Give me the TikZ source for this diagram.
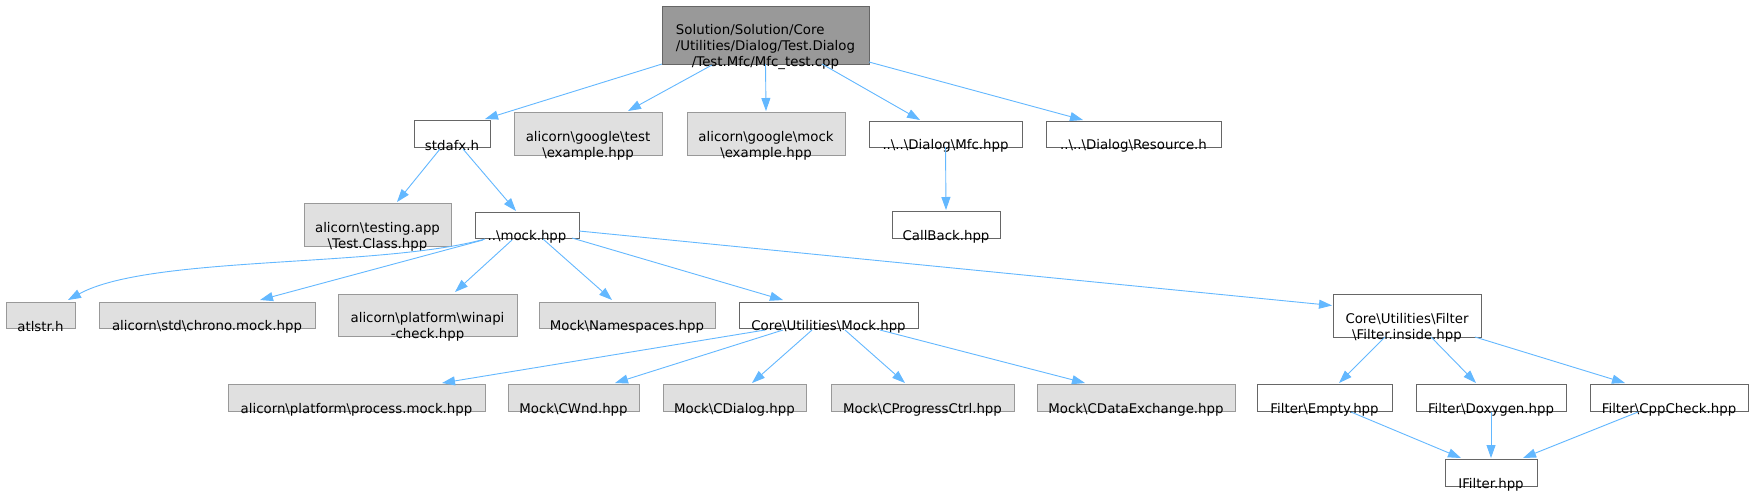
\documentclass[tikz,border=0pt]{standalone}
\usepackage{fontspec}
\setmainfont{DejaVu Sans}
\usetikzlibrary{arrows.meta}
\definecolor{edgec}{HTML}{63B8FF}
\definecolor{cdark}{HTML}{666666}
\definecolor{cmid}{HTML}{999999}
\definecolor{clight}{HTML}{E0E0E0}
\newcommand\bsl{\textbackslash}
\newcommand\filenode[7]{%
  \node[#2, minimum width=#5pt, minimum height=#6pt] (#1) at (#3,#4) {};
  \node[lbl] (#1-t) at ([yshift=-12pt]#1.center) {#7};
}
\tikzset{
  box/.style={rectangle, draw, line width=1pt, inner sep=0pt, outer sep=0pt},
  wbox/.style={box, draw=cdark, fill=white},
  gbox/.style={box, draw=cmid, fill=clight},
  rbox/.style={box, draw=cdark, fill=cmid},
  lbl/.style={inner sep=0pt, outer sep=0pt, align=center, text=black, font=\fontsize{13.33}{16}\selectfont},
  edge/.style={draw=edgec, line width=0.9pt, -{Triangle[length=13pt,width=9pt]}, fill=none},
}
\begin{document}
\begin{tikzpicture}[x=1pt, y=-1pt]
\useasboundingbox[fill=white] (0,0) rectangle (1752,491);
% nodes
\filenode{root}{rbox}{765.5}{35}{207}{58}{\rlap{Solution/Solution/Core}\phantom{/Utilities/Dialog/Test.Dialog}\\/Utilities/Dialog/Test.Dialog\\/Test.Mfc/Mfc\_test.cpp}
\filenode{stdafx}{wbox}{452}{133.5}{76}{27}{stdafx.h}
\filenode{gtest}{gbox}{588}{133.5}{148}{43}{alicorn\bsl{}google\bsl{}test\\\bsl{}example.hpp}
\filenode{gmock}{gbox}{766}{133.5}{158}{43}{alicorn\bsl{}google\bsl{}mock\\\bsl{}example.hpp}
\filenode{mfc}{wbox}{945.5}{134}{153}{26}{..\bsl{}..\bsl{}Dialog\bsl{}Mfc.hpp}
\filenode{resource}{wbox}{1133.5}{134}{175}{26}{..\bsl{}..\bsl{}Dialog\bsl{}Resource.h}
\filenode{testingapp}{gbox}{377.5}{224.5}{147}{43}{alicorn\bsl{}testing.app\\\bsl{}Test.Class.hpp}
\filenode{mock}{wbox}{527}{225}{104}{26}{..\bsl{}mock.hpp}
\filenode{callback}{wbox}{946}{224.5}{108}{27}{CallBack.hpp}
\filenode{atlstr}{gbox}{40.5}{315}{69}{26}{atlstr.h}
\filenode{chrono}{gbox}{207}{315}{216}{26}{alicorn\bsl{}std\bsl{}chrono.mock.hpp}
\filenode{winapi}{gbox}{427.5}{315}{179}{42}{alicorn\bsl{}platform\bsl{}winapi\\-check.hpp}
\filenode{namespaces}{gbox}{627}{315}{176}{26}{Mock\bsl{}Namespaces.hpp}
\filenode{coremock}{wbox}{828.5}{315}{179}{26}{Core\bsl{}Utilities\bsl{}Mock.hpp}
\filenode{filterinside}{wbox}{1407}{315.5}{148}{43}{Core\bsl{}Utilities\bsl{}Filter\\\bsl{}Filter.inside.hpp}
\filenode{process}{gbox}{356.5}{397.5}{257}{27}{alicorn\bsl{}platform\bsl{}process.mock.hpp}
\filenode{cwnd}{gbox}{573.5}{397.5}{131}{27}{Mock\bsl{}CWnd.hpp}
\filenode{cdialog}{gbox}{734.5}{397.5}{143}{27}{Mock\bsl{}CDialog.hpp}
\filenode{cprogress}{gbox}{922.5}{397.5}{183}{27}{Mock\bsl{}CProgressCtrl.hpp}
\filenode{cdataex}{gbox}{1136}{397.5}{198}{27}{Mock\bsl{}CDataExchange.hpp}
\filenode{fempty}{wbox}{1324.5}{397.5}{135}{27}{Filter\bsl{}Empty.hpp}
\filenode{fdoxygen}{wbox}{1491}{397.5}{150}{27}{Filter\bsl{}Doxygen.hpp}
\filenode{fcppcheck}{wbox}{1669}{397.5}{158}{27}{Filter\bsl{}CppCheck.hpp}
\filenode{ifilter}{wbox}{1491}{472.5}{92}{27}{IFilter.hpp}
% edges
\draw[edge] ([shift={(-103.5,29)}]root.center) -- ([shift={(33,-14.5)}]stdafx.center);
\draw[edge] ([shift={(-53.5,30)}]root.center) -- ([shift={(40,-22.5)}]gtest.center);
\draw[edge] ([shift={(0,29)}]root.center) -- ([shift={(0,-22.5)}]gmock.center);
\draw[edge] ([shift={(56.5,29)}]root.center) -- ([shift={(-25.5,-14)}]mfc.center);
\draw[edge] ([shift={(103.5,27)}]root.center) -- ([shift={(-50.5,-14)}]resource.center);
\draw[edge] ([shift={(-12,15.5)}]stdafx.center) -- ([shift={(19.5,-22.5)}]testingapp.center);
\draw[edge] ([shift={(11,15.5)}]stdafx.center) -- ([shift={(-11,-14)}]mock.center);
\draw[edge] ([shift={(0,13)}]mfc.center) -- ([shift={(0,-14.5)}]callback.center);
\draw[edge] ([shift={(-42,14)}]mock.center) .. controls +(-105,29) and +(82,-45) .. ([shift={(27.5,-15)}]atlstr.center);
\draw[edge] ([shift={(-44,15)}]mock.center) -- ([shift={(53,-15)}]chrono.center);
\draw[edge] ([shift={(-15,15)}]mock.center) -- ([shift={(27.5,-23)}]winapi.center);
\draw[edge] ([shift={(16,14)}]mock.center) -- ([shift={(-15,-15)}]namespaces.center);
\draw[edge] ([shift={(45,13)}]mock.center) -- ([shift={(-45.5,-15)}]coremock.center);
\draw[edge] ([shift={(52,6)}]mock.center) -- ([shift={(-75,-10)}]filterinside.center);
\draw[edge] ([shift={(-63.5,15)}]coremock.center) -- ([shift={(85.5,-14.5)}]process.center);
\draw[edge] ([shift={(-45.5,15)}]coremock.center) -- ([shift={(41.5,-14.5)}]cwnd.center);
\draw[edge] ([shift={(-16.5,15)}]coremock.center) -- ([shift={(17.5,-14.5)}]cdialog.center);
\draw[edge] ([shift={(16.5,15)}]coremock.center) -- ([shift={(-17.5,-14.5)}]cprogress.center);
\draw[edge] ([shift={(51.5,15)}]coremock.center) -- ([shift={(-51,-14.5)}]cdataex.center);
\draw[edge] ([shift={(-22,21.5)}]filterinside.center) -- ([shift={(14.5,-14.5)}]fempty.center);
\draw[edge] ([shift={(24,21.5)}]filterinside.center) -- ([shift={(-15,-14.5)}]fdoxygen.center);
\draw[edge] ([shift={(68,21.5)}]filterinside.center) -- ([shift={(-44,-14.5)}]fcppcheck.center);
\draw[edge] ([shift={(26.5,14.5)}]fempty.center) -- ([shift={(-30,-14.5)}]ifilter.center);
\draw[edge] ([shift={(0,14.5)}]fdoxygen.center) -- ([shift={(0,-14.5)}]ifilter.center);
\draw[edge] ([shift={(-31,14.5)}]fcppcheck.center) -- ([shift={(32,-14.5)}]ifilter.center);
\end{tikzpicture}
\end{document}
